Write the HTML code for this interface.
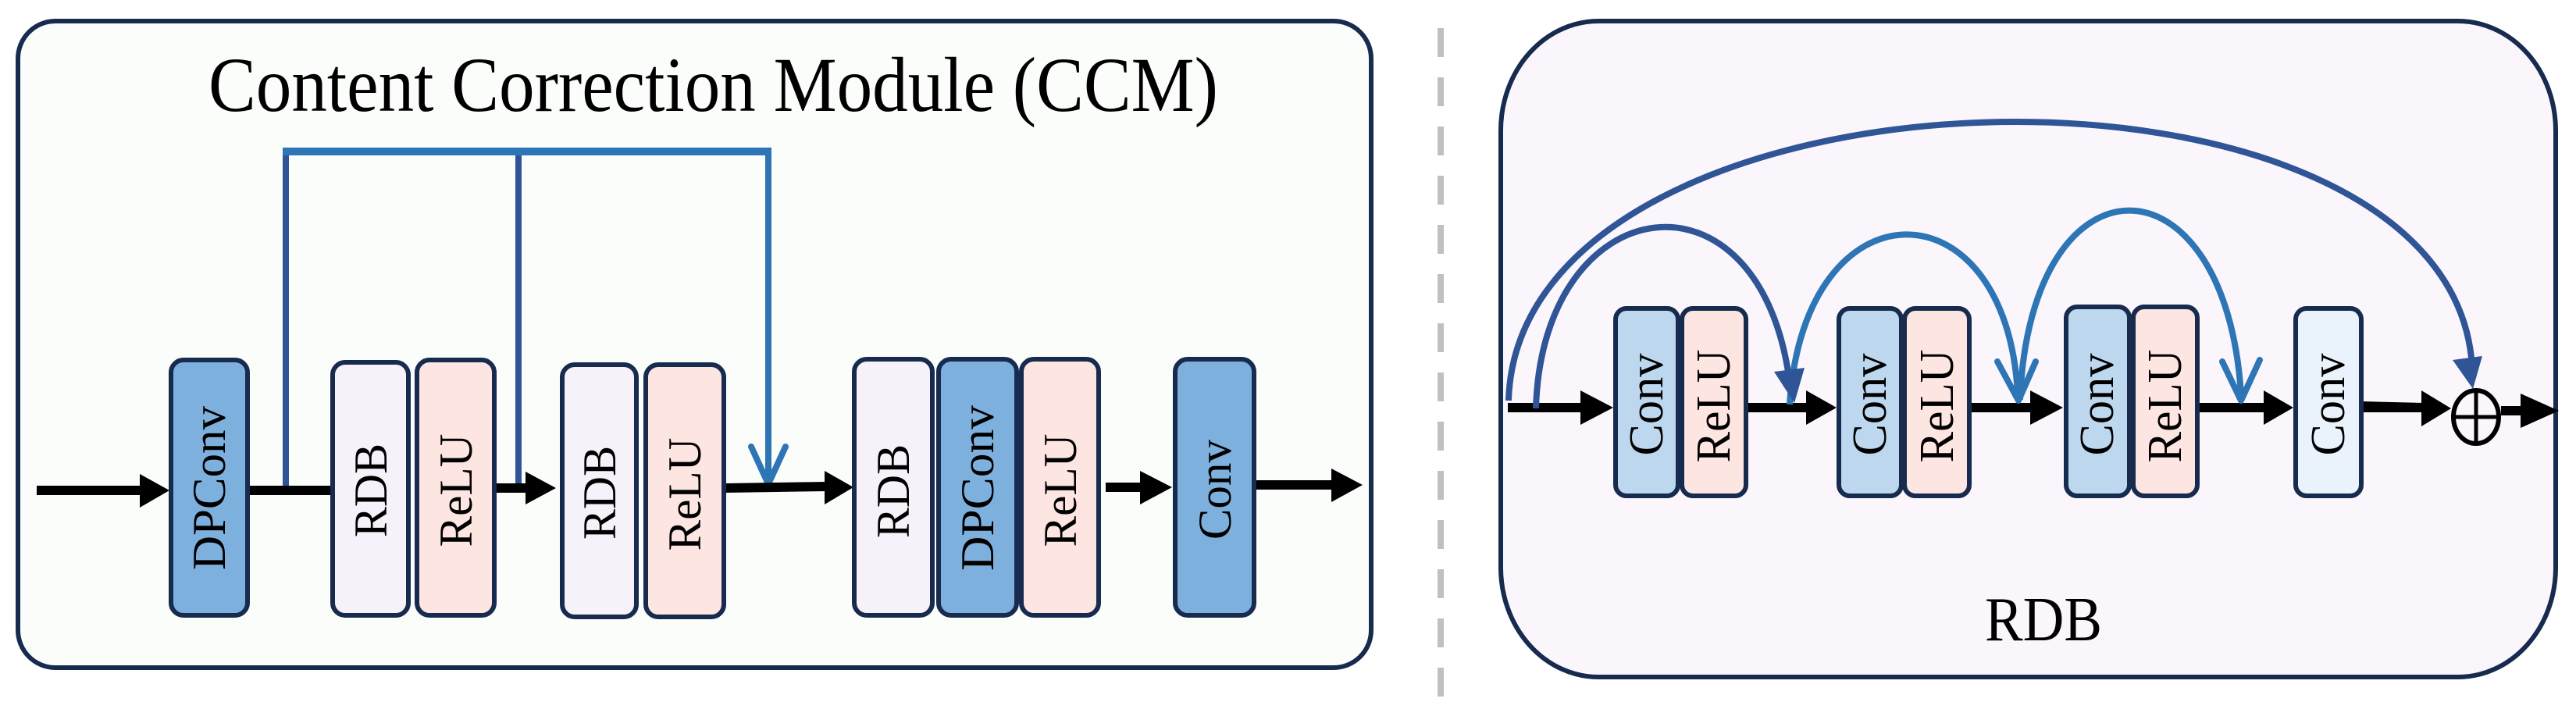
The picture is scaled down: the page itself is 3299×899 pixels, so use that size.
<!DOCTYPE html>
<html><head><meta charset="utf-8"><style>
html,body{margin:0;padding:0;background:#fff;}
svg{display:block;}
text{font-family:"Liberation Serif","DejaVu Serif",serif;fill:#000;}
</style></head><body>
<svg width="3299" height="899" viewBox="0 0 3299 899" xmlns="http://www.w3.org/2000/svg">
<!-- Left panel -->
<rect x="23" y="27" width="1733" height="828" rx="48" ry="48" fill="#fbfdfb" stroke="#172b4f" stroke-width="6"/>
<text x="267" y="142" font-size="100" textLength="1293" lengthAdjust="spacingAndGlyphs">Content Correction Module  (CCM)</text>

<!-- skip lines -->
<line x1="366" y1="194" x2="366" y2="627" stroke="#2f5597" stroke-width="8"/>
<line x1="664" y1="194" x2="664" y2="624" stroke="#2f5597" stroke-width="8"/>
<line x1="362" y1="194" x2="988" y2="194" stroke="#2e75b6" stroke-width="10"/>
<line x1="984" y1="194" x2="984" y2="620" stroke="#2e75b6" stroke-width="8"/>
<polyline points="962,572 984,620 1006,572" fill="none" stroke="#2e75b6" stroke-width="8" stroke-linecap="round" stroke-linejoin="round"/>

<!-- main line left -->
<g fill="#000">
<rect x="47" y="622" width="135" height="12"/>
<polygon points="179,607 217,628 179,650"/>
<rect x="319" y="622" width="106" height="12"/>
<rect x="635" y="619" width="42" height="12"/>
<polygon points="673,604 712,625 673,646"/>
<polygon points="929,619 1060,617 1060,629 929,631"/>
<polygon points="1056,603 1093,624 1056,646"/>
<rect x="1416" y="618" width="48" height="12"/>
<polygon points="1460,603 1501,624 1460,646"/>
<rect x="1609" y="615" width="100" height="12"/>
<polygon points="1705,600 1745,621 1705,643"/>
</g>

<!-- left boxes -->
<g stroke="#172b4f" stroke-width="6">
<rect x="219" y="461" width="98" height="327" rx="16" fill="#7eb0de"/>
<rect x="426" y="464" width="97" height="324" rx="16" fill="#f7f1f9"/>
<rect x="534" y="461" width="99" height="327" rx="16" fill="#fde5e2"/>
<rect x="720" y="467" width="95" height="323" rx="16" fill="#f7f1f9"/>
<rect x="827" y="467" width="100" height="323" rx="16" fill="#fde5e2"/>
<rect x="1094" y="460" width="100" height="328" rx="16" fill="#f7f1f9"/>
<rect x="1202" y="460" width="100" height="328" rx="16" fill="#7eb0de"/>
<rect x="1308" y="460" width="99" height="328" rx="16" fill="#fde5e2"/>
<rect x="1505" y="460" width="101" height="328" rx="16" fill="#7eb0de"/>
</g>
<g font-size="60" dominant-baseline="central" text-anchor="middle">
<text transform="translate(268,625) rotate(-90)" textLength="210" lengthAdjust="spacingAndGlyphs">DPConv</text>
<text transform="translate(475,628) rotate(-90)" textLength="120" lengthAdjust="spacingAndGlyphs">RDB</text>
<text transform="translate(584,628) rotate(-90)" textLength="145" lengthAdjust="spacingAndGlyphs">ReLU</text>
<text transform="translate(768,631) rotate(-90)" textLength="120" lengthAdjust="spacingAndGlyphs">RDB</text>
<text transform="translate(877,633) rotate(-90)" textLength="145" lengthAdjust="spacingAndGlyphs">ReLU</text>
<text transform="translate(1144,629) rotate(-90)" textLength="120" lengthAdjust="spacingAndGlyphs">RDB</text>
<text transform="translate(1252,625) rotate(-90)" textLength="212" lengthAdjust="spacingAndGlyphs">DPConv</text>
<text transform="translate(1358,628) rotate(-90)" textLength="145" lengthAdjust="spacingAndGlyphs">ReLU</text>
<text transform="translate(1556,627) rotate(-90)" textLength="128" lengthAdjust="spacingAndGlyphs">Conv</text>
</g>

<!-- divider -->
<line x1="1845" y1="36" x2="1845" y2="899" stroke="#c0c0c0" stroke-width="8" stroke-dasharray="37 26"/>

<!-- Right panel -->
<rect x="1922" y="27" width="1351" height="840" rx="125" ry="140" fill="#fbf6fc" stroke="#172b4f" stroke-width="6"/>

<!-- main line right -->
<g fill="#000">
<rect x="1931" y="516" width="100" height="12"/>
<polygon points="2024,500 2066,522 2024,544"/>
<rect x="2237" y="516" width="80" height="12"/>
<polygon points="2313,500 2352,522 2313,544"/>
<rect x="2523" y="516" width="82" height="12"/>
<polygon points="2600,500 2642,522 2600,544"/>
<rect x="2815" y="516" width="88" height="12"/>
<polygon points="2899,500 2937,522 2899,544"/>
<polygon points="3025,514 3105,516 3105,528 3025,528"/>
<polygon points="3101,500 3139,523 3101,546"/>
<rect x="3203" y="520" width="30" height="12"/>
<polygon points="3228,504 3277,526 3228,548"/>
</g>
<ellipse cx="3171" cy="534" rx="29" ry="34" fill="none" stroke="#000" stroke-width="6"/>
<line x1="3142" y1="534" x2="3200" y2="534" stroke="#000" stroke-width="5"/>
<line x1="3171" y1="500" x2="3171" y2="568" stroke="#000" stroke-width="5"/>

<!-- right boxes -->
<g stroke="#172b4f" stroke-width="6">
<rect x="2069" y="395" width="80" height="240" rx="14" fill="#bdd7ee"/>
<rect x="2154" y="395" width="82" height="240" rx="14" fill="#fde5e2"/>
<rect x="2355" y="395" width="80" height="240" rx="14" fill="#bdd7ee"/>
<rect x="2439" y="395" width="83" height="240" rx="14" fill="#fde5e2"/>
<rect x="2646" y="393" width="81" height="242" rx="14" fill="#bdd7ee"/>
<rect x="2732" y="393" width="82" height="242" rx="14" fill="#fde5e2"/>
<rect x="2940" y="395" width="84" height="240" rx="14" fill="#eaf3fb"/>
</g>
<g font-size="62" dominant-baseline="central" text-anchor="middle">
<text transform="translate(2109,518) rotate(-90)" textLength="131" lengthAdjust="spacingAndGlyphs">Conv</text>
<text transform="translate(2195,520) rotate(-90)" textLength="145" lengthAdjust="spacingAndGlyphs">ReLU</text>
<text transform="translate(2395,518) rotate(-90)" textLength="131" lengthAdjust="spacingAndGlyphs">Conv</text>
<text transform="translate(2481,520) rotate(-90)" textLength="145" lengthAdjust="spacingAndGlyphs">ReLU</text>
<text transform="translate(2686,518) rotate(-90)" textLength="131" lengthAdjust="spacingAndGlyphs">Conv</text>
<text transform="translate(2773,520) rotate(-90)" textLength="145" lengthAdjust="spacingAndGlyphs">ReLU</text>
<text transform="translate(2982,518) rotate(-90)" textLength="131" lengthAdjust="spacingAndGlyphs">Conv</text>
</g>

<!-- arcs -->
<g fill="none" stroke-width="8">
<path d="M1932,513 C1945,60 3140,30 3166,470" stroke="#2f5597"/>
<path d="M1967,523 C1975,240 2255,200 2292,490" stroke="#2f5597"/>
<path d="M2292,518 C2310,230 2570,230 2584,505" stroke="#2e75b6"/>
<path d="M2587,512 C2600,190 2850,190 2870,505" stroke="#2e75b6"/>
</g>
<polygon points="2272,476 2311,471 2298,516" fill="#2f5597"/>
<polygon points="3141,461 3179,456 3167,498" fill="#2f5597"/>
<polyline points="2558,463 2585,513 2607,463" fill="none" stroke="#2e75b6" stroke-width="8" stroke-linecap="round" stroke-linejoin="round"/>
<polyline points="2846,463 2870,513 2894,461" fill="none" stroke="#2e75b6" stroke-width="8" stroke-linecap="round" stroke-linejoin="round"/>

<text x="2542" y="820" font-size="80" textLength="150" lengthAdjust="spacingAndGlyphs">RDB</text>
</svg>
</body></html>
